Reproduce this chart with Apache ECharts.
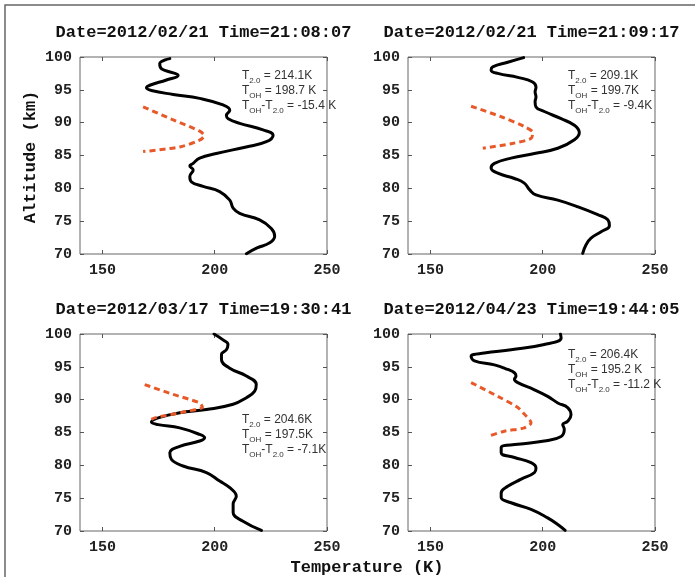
<!DOCTYPE html>
<html>
<head>
<meta charset="utf-8">
<script src="https://cdn.jsdelivr.net/npm/echarts@6/dist/echarts.min.js"></script>
<style>
html,body{margin:0;padding:0;background:#fff;}
#chart{width:695px;height:577px;}
</style>
</head>
<body>
<div id="chart"></div>
<script>
// ---------------- DATA ----------------
const titles = [
  'Date=2012/02/21 Time=21:08:07',
  'Date=2012/02/21 Time=21:09:17',
  'Date=2012/03/17 Time=19:30:41',
  'Date=2012/04/23 Time=19:44:05'
];
const xTicks = [150, 200, 250];
const yTicks = [70, 75, 80, 85, 90, 95, 100];
const xLabelName = 'Temperature (K)';
const yLabelName = 'Altitude (km)';

// panel annotations: [T2.0, TOH, TOH-T2.0]
const t20Vals = ['214.1K', '209.1K', '204.6K', '206.4K'];
const tohVals = ['198.7 K', '199.7K', '197.5K', '195.2 K'];
const diffVals = ['-15.4 K', '-9.4K', '-7.1K', '-11.2 K'];

// Panel 1 lidar temperature profile
const alt1 = [99.75, 99.0, 98.2, 97.2, 96.5, 95.7, 95.3, 94.9, 94.3, 93.7, 92.7, 91.9, 91.1, 90.6, 89.9, 88.9, 88.1, 87.1, 86.3, 85.3, 84.6, 83.8, 83.4, 82.8, 81.8, 81.0, 80.3, 79.5, 78.2, 77.0, 76.2, 75.2, 73.9, 72.7, 71.7, 70.9, 70.05];
const temp1 = [180.0, 175.5, 176.3, 183.7, 178.5, 171.1, 169.6, 171.8, 181.5, 193.3, 203.7, 206.7, 205.2, 206.0, 211.1, 221.5, 226.0, 223.0, 214.0, 200.7, 193.3, 190.4, 188.9, 190.4, 188.9, 189.6, 194.8, 202.2, 206.7, 208.2, 211.1, 220.0, 225.2, 226.7, 224.5, 218.6, 214.1];
const ohAlt1 = [92.4, 90.5, 88.7, 88.0, 87.3, 86.3, 85.6];
const ohTemp1 = [168.1, 181.0, 193.3, 195.3, 193.0, 184.4, 168.1];

// Panel 2
const alt2 = [99.9, 99.2, 98.5, 98.0, 97.5, 96.9, 96.2, 95.4, 94.7, 93.9, 93.2, 92.4, 91.7, 90.6, 89.6, 88.5, 87.4, 86.1, 85.3, 84.6, 83.8, 83.1, 82.3, 81.5, 80.8, 79.8, 79.0, 78.2, 77.2, 76.0, 75.2, 74.3, 73.4, 72.4, 71.4, 70.1];
const temp2 = [191.5, 184.4, 177.7, 177.0, 180.0, 188.9, 195.5, 197.0, 196.6, 197.0, 196.6, 197.0, 200.7, 208.2, 214.1, 216.3, 214.1, 206.7, 196.3, 185.9, 178.5, 177.0, 180.0, 187.4, 191.8, 194.1, 197.0, 206.7, 215.6, 224.5, 229.0, 229.7, 226.0, 221.5, 219.3, 217.8];
const ohAlt2 = [92.5, 90.9, 89.4, 88.5, 87.6, 86.8, 86.1];
const ohTemp2 = [168.1, 181.5, 191.8, 195.5, 194.8, 185.9, 173.3];

// Panel 3
const alt3 = [100.0, 99.1, 98.4, 97.6, 96.9, 96.1, 94.8, 93.6, 92.3, 91.3, 90.3, 89.3, 88.5, 88.0, 87.3, 86.6, 86.2, 85.7, 84.7, 84.2, 83.7, 82.9, 81.9, 80.9, 79.9, 78.9, 77.6, 76.6, 75.3, 74.1, 72.8, 71.5, 70.1];
const temp3 = [199.7, 203.7, 205.9, 205.2, 203.0, 203.0, 206.7, 214.1, 218.5, 217.8, 214.1, 208.2, 196.3, 184.4, 175.5, 171.8, 174.8, 184.4, 193.3, 195.5, 193.3, 184.4, 180.0, 180.7, 185.9, 196.3, 202.2, 206.7, 209.6, 208.2, 208.2, 212.6, 220.8];
const ohAlt3 = [92.3, 90.8, 89.5, 88.9, 88.2, 87.3, 87.0];
const ohTemp3 = [168.8, 181.5, 193.3, 194.5, 187.4, 174.0, 171.8];

// Panel 4
const alt4 = [100.0, 99.4, 98.4, 97.6, 97.1, 96.6, 95.9, 95.3, 94.6, 94.1, 93.6, 93.1, 92.6, 91.5, 90.5, 89.5, 88.8, 87.7, 86.7, 86.2, 85.5, 84.4, 83.7, 83.2, 82.7, 81.9, 81.2, 80.4, 79.6, 78.9, 77.9, 76.8, 75.8, 75.1, 74.3, 73.3, 72.0, 71.0, 70.1];
const temp4 = [207.9, 208.2, 200.7, 185.9, 174.0, 168.1, 169.6, 178.5, 184.4, 187.4, 188.1, 187.4, 188.9, 196.3, 202.2, 206.7, 211.1, 212.6, 211.1, 208.9, 209.6, 208.2, 200.7, 188.9, 181.5, 181.5, 187.4, 194.8, 197.0, 196.3, 190.4, 184.4, 181.5, 181.5, 185.9, 194.8, 202.2, 206.7, 210.0];
const ohAlt4 = [92.6, 90.5, 88.8, 87.5, 86.5, 85.7, 85.2, 84.4];
const ohTemp4 = [168.1, 180.0, 188.9, 192.6, 194.8, 191.8, 182.9, 175.5];

const profiles = [[alt1, temp1], [alt2, temp2], [alt3, temp3], [alt4, temp4]];
const ohProfiles = [[ohAlt1, ohTemp1], [ohAlt2, ohTemp2], [ohAlt3, ohTemp3], [ohAlt4, ohTemp4]];

// ---------------- LAYOUT ----------------
const grids = [
  {left: 80, top: 57, width: 247, height: 197},
  {left: 408, top: 57, width: 247, height: 197},
  {left: 80, top: 334, width: 247, height: 197},
  {left: 408, top: 334, width: 247, height: 197}
];
const annotOffset = [[162, 13], [160, 13], [162, 80], [160, 15]];

const mono = "'Liberation Mono', 'DejaVu Sans Mono', monospace";
const sans = "'Liberation Sans', Arial, sans-serif";

const chart = echarts.init(document.getElementById('chart'));

const xAxes = [], yAxes = [], series = [], graphics = [];
const tickStyle = {show: true, inside: true, length: 4, lineStyle: {color: '#555', width: 1}};

grids.forEach((g, i) => {
  xAxes.push({
    type: 'value', gridIndex: i, min: 140, max: 250, position: 'bottom',
    axisLine: {show: false}, splitLine: {show: false},
    axisTick: Object.assign({customValues: xTicks}, tickStyle),
    axisLabel: {customValues: xTicks, margin: 9, fontFamily: mono, fontWeight: 'bold', fontSize: 15, color: '#222'}
  });
  xAxes.push({
    type: 'value', gridIndex: i, min: 140, max: 250, position: 'top',
    axisLine: {show: false}, splitLine: {show: false},
    axisTick: Object.assign({customValues: xTicks}, tickStyle),
    axisLabel: {show: false}
  });
  yAxes.push({
    type: 'value', gridIndex: i, min: 70, max: 100, interval: 5, position: 'left',
    axisLine: {show: false}, splitLine: {show: false},
    axisTick: tickStyle,
    axisLabel: {margin: 8, fontFamily: mono, fontWeight: 'bold', fontSize: 15, color: '#222'}
  });
  yAxes.push({
    type: 'value', gridIndex: i, min: 70, max: 100, interval: 5, position: 'right',
    axisLine: {show: false}, splitLine: {show: false},
    axisTick: tickStyle,
    axisLabel: {show: false}
  });

  const [al, tp] = profiles[i];
  series.push({
    type: 'line', xAxisIndex: 2 * i, yAxisIndex: 2 * i,
    data: al.map((a, k) => [tp[k], a]),
    smooth: 0.45, showSymbol: false, symbol: 'none',
    lineStyle: {color: '#000', width: 3, cap: 'round', join: 'round'},
    z: 3
  });
  const [oa, ot] = ohProfiles[i];
  series.push({
    type: 'line', xAxisIndex: 2 * i, yAxisIndex: 2 * i,
    data: oa.map((a, k) => [ot[k], a]),
    smooth: 0.3, showSymbol: false, symbol: 'none',
    lineStyle: {color: '#E8592A', width: 3, type: [6, 4]},
    z: 4
  });

  // titles
  graphics.push({
    type: 'text', x: g.left + g.width / 2, y: g.top - 24,
    style: {text: titles[i], fill: '#111', font: `bold 17px ${mono}`, align: 'center', verticalAlign: 'middle'}
  });
  // annotations
  graphics.push({
    type: 'text', x: g.left + annotOffset[i][0], y: g.top + annotOffset[i][1],
    style: {
      text: `{t|T}{s|2.0}{t| = ${t20Vals[i]}}\n{t|T}{s|OH}{t| = ${tohVals[i]}}\n{t|T}{s|OH}{t|-T}{s|2.0}{t| = ${diffVals[i]}}`,
      rich: {
        t: {fontFamily: sans, fontSize: 12, fill: '#333', lineHeight: 15, verticalAlign: 'top'},
        s: {fontFamily: sans, fontSize: 8, fill: '#333', lineHeight: 8, padding: [7, 0, 0, 0], verticalAlign: 'top'}
      }
    },
    z: 10
  });
});

// axis names
graphics.push({
  type: 'text', x: 367, y: 568,
  style: {text: xLabelName, fill: '#111', font: `bold 17px ${mono}`, align: 'center', verticalAlign: 'middle'}
});
graphics.push({
  type: 'text', x: 31, y: 157, rotation: Math.PI / 2,
  style: {text: yLabelName, fill: '#111', font: `bold 17px ${mono}`, align: 'center', verticalAlign: 'middle'}
});
// outer frame
graphics.push({
  type: 'rect', shape: {x: 5, y: 5, width: 720, height: 620},
  style: {fill: 'none', stroke: '#666', lineWidth: 1.5}, z: -1
});

chart.setOption({
  backgroundColor: '#fff',
  animation: false,
  grid: grids.map(g => Object.assign({show: true, borderColor: '#666', borderWidth: 1, backgroundColor: 'transparent', containLabel: false}, g)),
  xAxis: xAxes,
  yAxis: yAxes,
  series: series,
  graphic: graphics
});
</script>
</body>
</html>
